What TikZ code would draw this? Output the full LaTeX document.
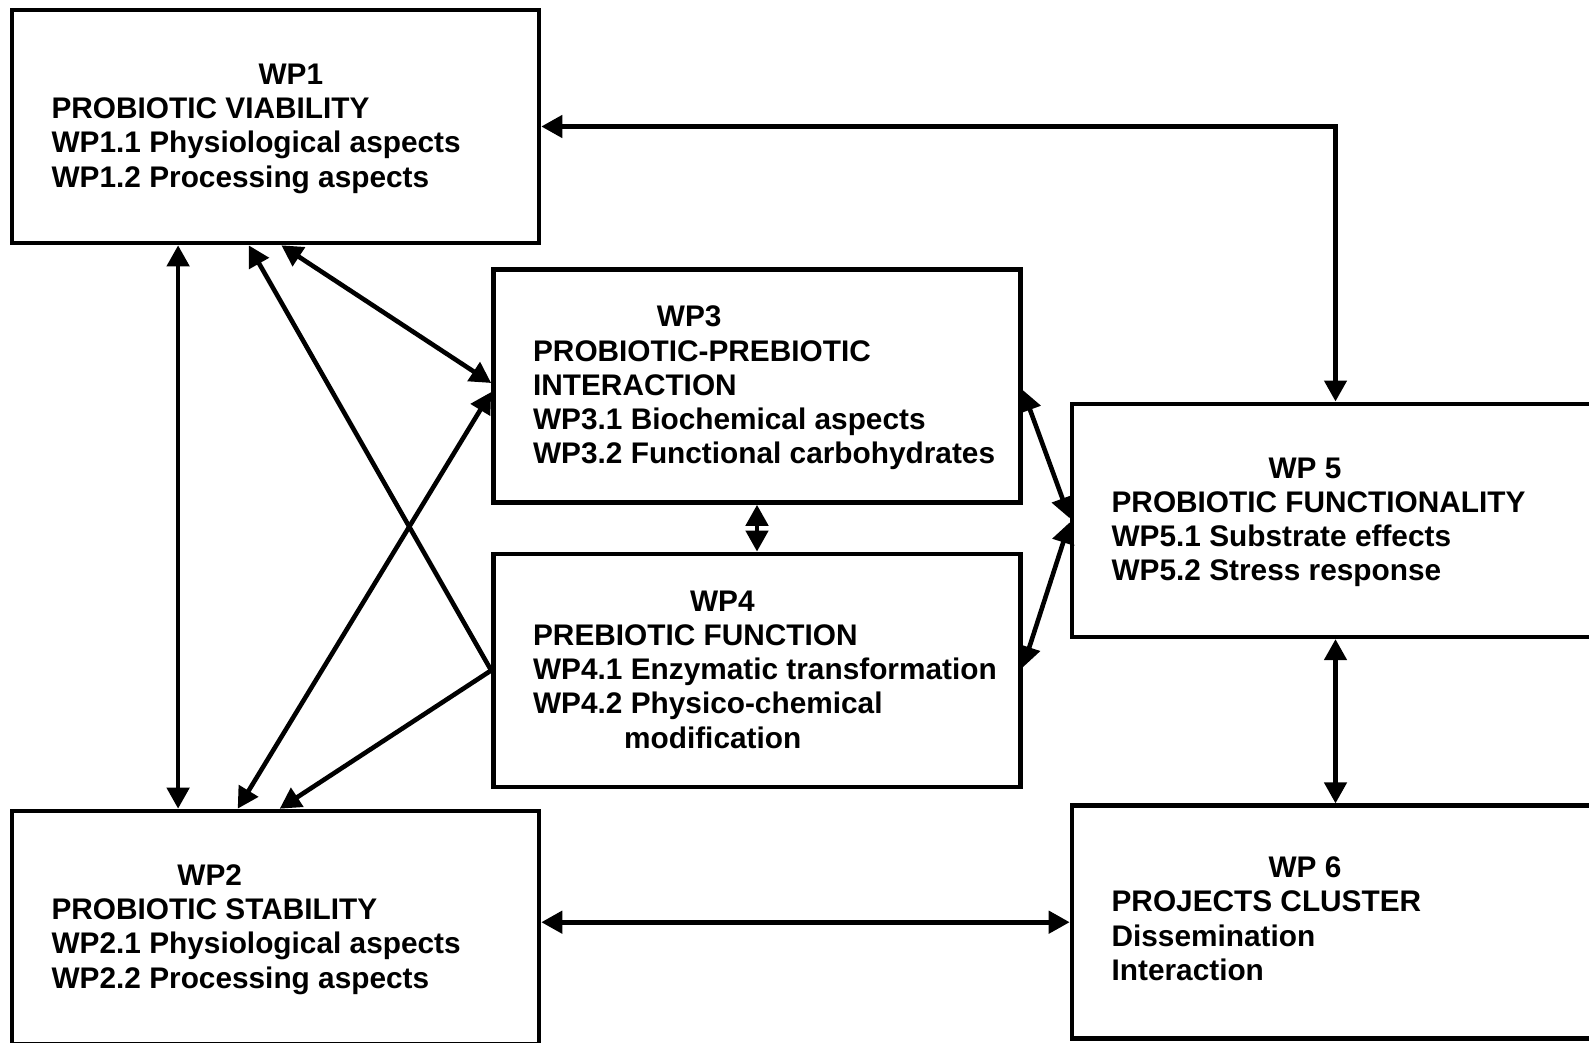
\documentclass[tikz,border=0pt]{standalone}
\usepackage{fontspec}
\setmainfont{Liberation Sans}
\usetikzlibrary{arrows.meta,calc}

\tikzset{
  wpbox/.style={draw, rectangle, line width=2.3pt, minimum width=263.5pt, minimum height=116.5pt, inner sep=0pt},
  wptext/.style={anchor=west, inner sep=0pt, font=\fontsize{14.9}{17.1}\selectfont\bfseries},
  link/.style={line width=2.3pt, >={Triangle[length=10.5pt,width=11pt]}}
}

\begin{document}
\begin{tikzpicture}[x=0.5pt, y=-0.5pt]
\useasboundingbox (0,0) rectangle (1589,1043);

\def \pad {41.5} % text margin inside the boxes
\def \drop {2.5} % text sits a little below the box centre
% work packages
  \node[wpbox] (wp1) at (275.5,126.5) {};
  \node[wptext] (wp1txt) at ($(wp1.west)+(\pad,\drop)$) {\begin{tabular}{@{}l@{}}\hspace*{103.5pt}WP1\\PROBIOTIC VIABILITY\\WP1.1 Physiological aspects\\WP1.2 Processing aspects\end{tabular}};
%
  \node[wpbox] (wp2) at (275.5,927.5) {};
  \node[wptext] (wp2txt) at ($(wp2.west)+(\pad,\drop)$) {\begin{tabular}{@{}l@{}}\hspace*{62.9pt}WP2\\PROBIOTIC STABILITY\\WP2.1 Physiological aspects\\WP2.2 Processing aspects\end{tabular}};
%
  \node[wpbox] (wp3) at (757,386) {};
  \node[wptext] (wp3txt) at ($(wp3.west)+(\pad,\drop)$) {\begin{tabular}{@{}l@{}}\hspace*{61.9pt}WP3\\PROBIOTIC-PREBIOTIC\\INTERACTION\\WP3.1 Biochemical aspects\\WP3.2 Functional carbohydrates\end{tabular}};
%
  \node[wpbox] (wp4) at (757,670.4) {};
  \node[wptext] (wp4txt) at ($(wp4.west)+(\pad,\drop)$) {\begin{tabular}{@{}l@{}}\hspace*{78.5pt}WP4\\PREBIOTIC FUNCTION\\WP4.1 Enzymatic transformation\\WP4.2 Physico-chemical\\\hspace*{45.5pt}modification\end{tabular}};
%
  \node[wpbox] (wp5) at (1335.5,520.3) {};
  \node[wptext] (wp5txt) at ($(wp5.west)+(\pad,\drop)$) {\begin{tabular}{@{}l@{}}\hspace*{78.5pt}WP 5\\PROBIOTIC FUNCTIONALITY\\WP5.1 Substrate effects\\WP5.2 Stress response\end{tabular}};
%
  \node[wpbox] (wp6) at (1335.5,922.2) {};
  \node[wptext] (wp6txt) at ($(wp6.west)+(\pad,0)$) {\begin{tabular}{@{}l@{}}\hspace*{78.5pt}WP 6\\PROJECTS CLUSTER\\Dissemination\\Interaction\end{tabular}};
%
% links between the work packages
  \draw[link, <->] ($(wp1.south west)+(168.4,0)$) -- ($(wp2.north west)+(168.4,0)$);
  \draw[link, <->] ($(wp1.south west)+(271.7,0)$) -- ($(wp3.west)+(0,-3)$);
  \draw[link, ->] (wp4.west) -- ($(wp1.south west)+(239,0)$);
  \draw[link, <->] ($(wp2.north west)+(228,0)$) -- ($(wp3.west)+(0,6)$);
  \draw[link, ->] (wp4.west) -- ($(wp2.north west)+(270,0)$);
  \draw[link, <->] (wp3.south) -- (wp4.north);
  \draw[link, <->] ($(wp3.east)+(0,4)$) -- ($(wp5.west)+(0,-2)$);
  \draw[link, <->] ($(wp4.east)+(0,-3)$) -- ($(wp5.west)+(0,2)$);
  \draw[link, <->] (wp1.east) -| (wp5.north);
  \draw[link, <->] (wp5.south) -- (wp6.north);
  \draw[link, <->] (wp2.east |- wp6.west) -- (wp6.west);
%
\end{tikzpicture}
\end{document}
